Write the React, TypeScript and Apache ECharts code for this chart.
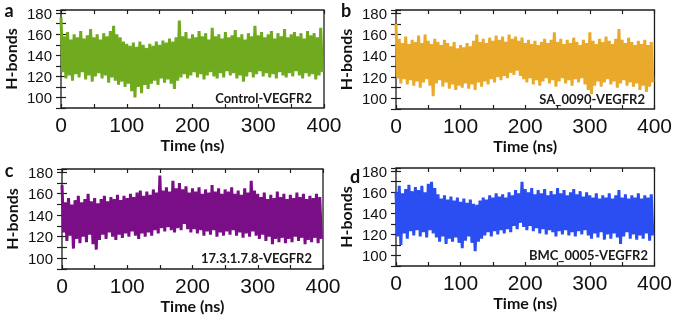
import React, { useEffect, useRef } from "react";
import * as echarts from "echarts";

// Time slot width (ns): each slot holds one upper and one lower excursion
const SLOT_NS = 5;

// Panel a: Control-VEGFR2 (upper and lower excursions per 5 ns slot)
const aHigh = [
  176, 158, 162, 155, 160, 157, 163, 156, 159, 165,
  157, 160, 155, 161, 158, 163, 168, 160, 157, 153,
  151, 149, 152, 148, 153, 150, 147, 151, 149, 153,
  150, 154, 152, 156, 153, 157, 173, 158, 162, 156,
  160, 157, 163, 158, 161, 155, 166, 158, 160, 156,
  162, 157, 159, 164, 157, 160, 155, 161, 158, 168,
  159, 162, 157, 160, 163, 156, 161, 158, 165, 157,
  160, 162, 158, 161, 156, 163, 159, 161, 157, 166,
];
const aLow = [
  124, 118, 121, 116, 122, 119, 124, 117, 121, 115,
  120, 123, 118, 121, 114, 119, 116, 112, 115, 110,
  113, 106, 100, 110, 104, 112, 108, 113, 116, 112,
  118, 114, 117, 113, 108, 116, 119, 122, 118, 121,
  124, 119, 122, 117, 121, 124, 120, 118, 123, 119,
  125, 121, 123, 118, 121, 115, 120, 124, 119, 122,
  125, 120, 123, 119, 122, 118, 124, 121, 119, 123,
  120, 125, 121, 118, 123, 120, 122, 117, 121, 124,
];

// Panel b: SA_0090-VEGFR2
const bHigh = [
  170, 156, 152, 158, 151, 155, 153, 159, 152, 160,
  154, 151, 156, 153, 150, 155, 152, 149, 153, 147,
  150, 148, 152, 149, 154, 160, 153, 156, 152, 157,
  154, 159, 155, 158, 153, 160, 156, 158, 154, 157,
  152, 155, 151, 154, 150, 153, 156, 152, 155, 162,
  153, 156, 151, 155, 152, 157, 153, 150, 155, 152,
  162, 154, 151, 156, 153, 158, 154, 151, 156, 165,
  155, 152, 157, 153, 150, 154, 151, 155, 150, 153,
];
const bLow = [
  119, 114, 118, 113, 117, 112, 116, 110, 115, 118,
  112, 102, 114, 117, 111, 115, 109, 113, 108, 112,
  110, 114, 109, 113, 108, 115, 111, 116, 113, 118,
  115, 120, 117, 121, 119, 124, 122, 126, 121, 118,
  115, 119, 113, 117, 112, 116, 119, 114, 117, 111,
  116, 119, 114, 117, 112, 118, 115, 119, 113, 108,
  104, 112, 116, 111, 115, 118, 113, 116, 110, 114,
  117, 112, 115, 111, 114, 108, 112, 106, 111, 115,
];

// Panel c: 17.3.1.7.8-VEGFR2
const cHigh = [
  168, 152, 156, 150, 154, 158, 152, 155, 160, 153,
  156, 151, 155, 158, 153, 157, 155, 159, 154, 158,
  156, 160, 157, 161, 163, 158, 162, 159, 164, 161,
  177, 163, 166, 162, 172, 165, 170, 164, 167, 161,
  165, 162, 166, 160, 164, 161, 168, 162, 165, 160,
  164, 162, 166, 160, 163, 159, 165, 161, 172, 163,
  160, 157, 161, 155, 159, 156, 162, 157, 160, 155,
  159, 156, 161, 157, 160, 155, 158, 156, 160, 157,
];
const cLow = [
  124, 116, 121, 109, 118, 114, 120, 115, 122, 113,
  108, 117, 122, 118, 124, 120, 117, 122, 119, 123,
  120, 125, 121, 118, 123, 120, 124, 121, 126, 123,
  128, 125, 129, 126, 124, 128, 126, 132, 127, 124,
  127, 123, 126, 121, 125, 122, 126, 120, 124, 121,
  125, 122, 126, 121, 124, 119, 123, 120, 125, 121,
  118, 122, 116, 120, 113, 118, 115, 119, 114, 118,
  115, 120, 116, 119, 113, 117, 115, 119, 114, 118,
];

// Panel d: BMC_0005-VEGFR2
const dHigh = [
  160, 166, 159, 163, 167, 161, 165, 162, 166, 160,
  168, 170, 164, 158, 154, 157, 153, 156, 152, 155,
  151, 154, 150, 153, 149, 148, 152, 155, 153, 157,
  155, 159, 156, 158, 155, 160, 157, 162, 159, 170,
  163, 160, 164, 158, 162, 159, 163, 157, 161, 158,
  164, 159, 162, 157, 160, 163, 158, 161, 156, 160,
  157, 155, 159, 154, 157, 155, 159, 154, 157, 162,
  155, 158, 154, 157, 155, 159, 154, 157, 155, 158,
];
const dLow = [
  118, 110, 121, 116, 123, 119, 124, 118, 122, 117,
  124, 121, 117, 113, 118, 111, 116, 113, 117, 112,
  107, 114, 118, 112, 104, 113, 116, 119, 122, 118,
  123, 120, 124, 121, 125, 122, 128, 125, 131, 127,
  124, 128, 123, 126, 121, 125, 120, 124, 122, 118,
  123, 120, 124, 119, 122, 118, 123, 120, 124, 119,
  116, 121, 117, 122, 115, 120, 116, 121, 117, 111,
  118, 122, 116, 120, 115, 119, 116, 121, 114, 119,
];

const panelLetters = ["a", "b", "c", "d"];
const panelNames = ["Control-VEGFR2", "SA_0090-VEGFR2", "17.3.1.7.8-VEGFR2", "BMC_0005-VEGFR2"];
const xTicks = [0, 100, 200, 300, 400];
const yTicks = [100, 120, 140, 160, 180];

function zigzag(hi: number[], lo: number[]) {
  const out: number[][] = [];
  for (let i = 0; i < hi.length; i++) {
    out.push([i * SLOT_NS, hi[i]]);
    out.push([i * SLOT_NS + SLOT_NS / 2, lo[i]]);
  }
  return out;
}

const layouts = [
  { left: 61, top: 10, width: 263, height: 98 },
  { left: 396, top: 10, width: 262, height: 99 },
  { left: 62, top: 169, width: 261, height: 100 },
  { left: 396, top: 168, width: 263, height: 98 },
];
const colors = ["#70aa1f", "#e9aa2c", "#7a0e87", "#2a4ef2"];
const seriesData = [
  zigzag(aHigh, aLow),
  zigzag(bHigh, bLow),
  zigzag(cHigh, cLow),
  zigzag(dHigh, dLow),
];
const letterPos = [
  [9, 10],
  [346, 10],
  [9, 170],
  [355, 176],
];
const namePos = [
  [312, 98],
  [645, 99],
  [312, 258],
  [648, 255],
];

export default function App() {
  const ref = useRef<HTMLDivElement>(null);
  useEffect(() => {
    if (!ref.current) return;
    const chart = echarts.init(ref.current, undefined, { renderer: "svg" });
    const ink = "#1e1e1e";
    const xAxes: any[] = [];
    const yAxes: any[] = [];
    layouts.forEach((_, i) => {
      const tick = { show: true, inside: true, length: 4, lineStyle: { color: ink, width: 1.2 } };
      xAxes.push({
        gridIndex: i, type: "value", position: "bottom", min: 0, max: 400, interval: 50,
        axisLine: { show: false }, splitLine: { show: false }, axisTick: tick,
        axisLabel: {
          margin: 6, fontSize: 21, color: "#111", fontFamily: "Liberation Sans",
          formatter: (v: number) => (xTicks.includes(v) ? String(v) : ""),
        },
        name: "Time (ns)", nameLocation: "middle", nameGap: 28,
        nameTextStyle: { fontFamily: "Lato", fontWeight: "bold", fontSize: 16, color: "#111" },
      });
      xAxes.push({
        gridIndex: i, type: "value", position: "top", min: 0, max: 400, interval: 50,
        axisLine: { show: false }, splitLine: { show: false }, axisTick: tick,
        axisLabel: { show: false },
      });
      yAxes.push({
        gridIndex: i, type: "value", position: "left", min: 90, max: 183, interval: 10,
        axisLine: { show: false }, splitLine: { show: false },
        axisTick: { ...tick, length: 5 },
        axisLabel: {
          margin: 9, fontSize: 15, color: "#111", fontFamily: "Liberation Sans",
          formatter: (v: number) => (yTicks.includes(v) ? String(v) : ""),
        },
        name: "H-bonds", nameLocation: "middle", nameGap: 43,
        nameTextStyle: { fontFamily: "Lato", fontWeight: "bold", fontSize: 16, color: "#111" },
      });
      yAxes.push({
        gridIndex: i, type: "value", position: "right", min: 90, max: 183, interval: 10,
        axisLine: { show: false }, splitLine: { show: false },
        axisTick: { ...tick, length: 5 }, axisLabel: { show: false },
      });
    });
    const graphics: any[] = [];
    panelLetters.forEach((l, i) => {
      graphics.push({
        type: "text", x: letterPos[i][0], y: letterPos[i][1],
        style: { text: l, fontFamily: "Lato", fontWeight: "bold", fontSize: 18, fill: "#111", align: "center", verticalAlign: "middle" },
      });
      graphics.push({
        type: "text", x: namePos[i][0], y: namePos[i][1], z: 100,
        style: { text: panelNames[i], fontFamily: "Lato", fontWeight: "bold", fontSize: 13, fill: "#1a1a1a", align: "right", verticalAlign: "middle" },
      });
    });
    chart.setOption({
      animation: false,
      grid: layouts.map((g) => ({ ...g, show: true, borderColor: ink, borderWidth: 1.3, backgroundColor: "transparent" })),
      xAxis: xAxes,
      yAxis: yAxes,
      series: seriesData.map((d, i) => ({
        type: "line", xAxisIndex: 2 * i, yAxisIndex: 2 * i, data: d,
        showSymbol: false, symbol: "none", clip: true,
        lineStyle: { color: colors[i], width: 3, join: "bevel" },
      })),
      graphic: graphics,
    });
    return () => chart.dispose();
  }, []);
  return <div ref={ref} style={{ position: "fixed", left: 0, top: 0, width: 675, height: 315 }} />;
}
